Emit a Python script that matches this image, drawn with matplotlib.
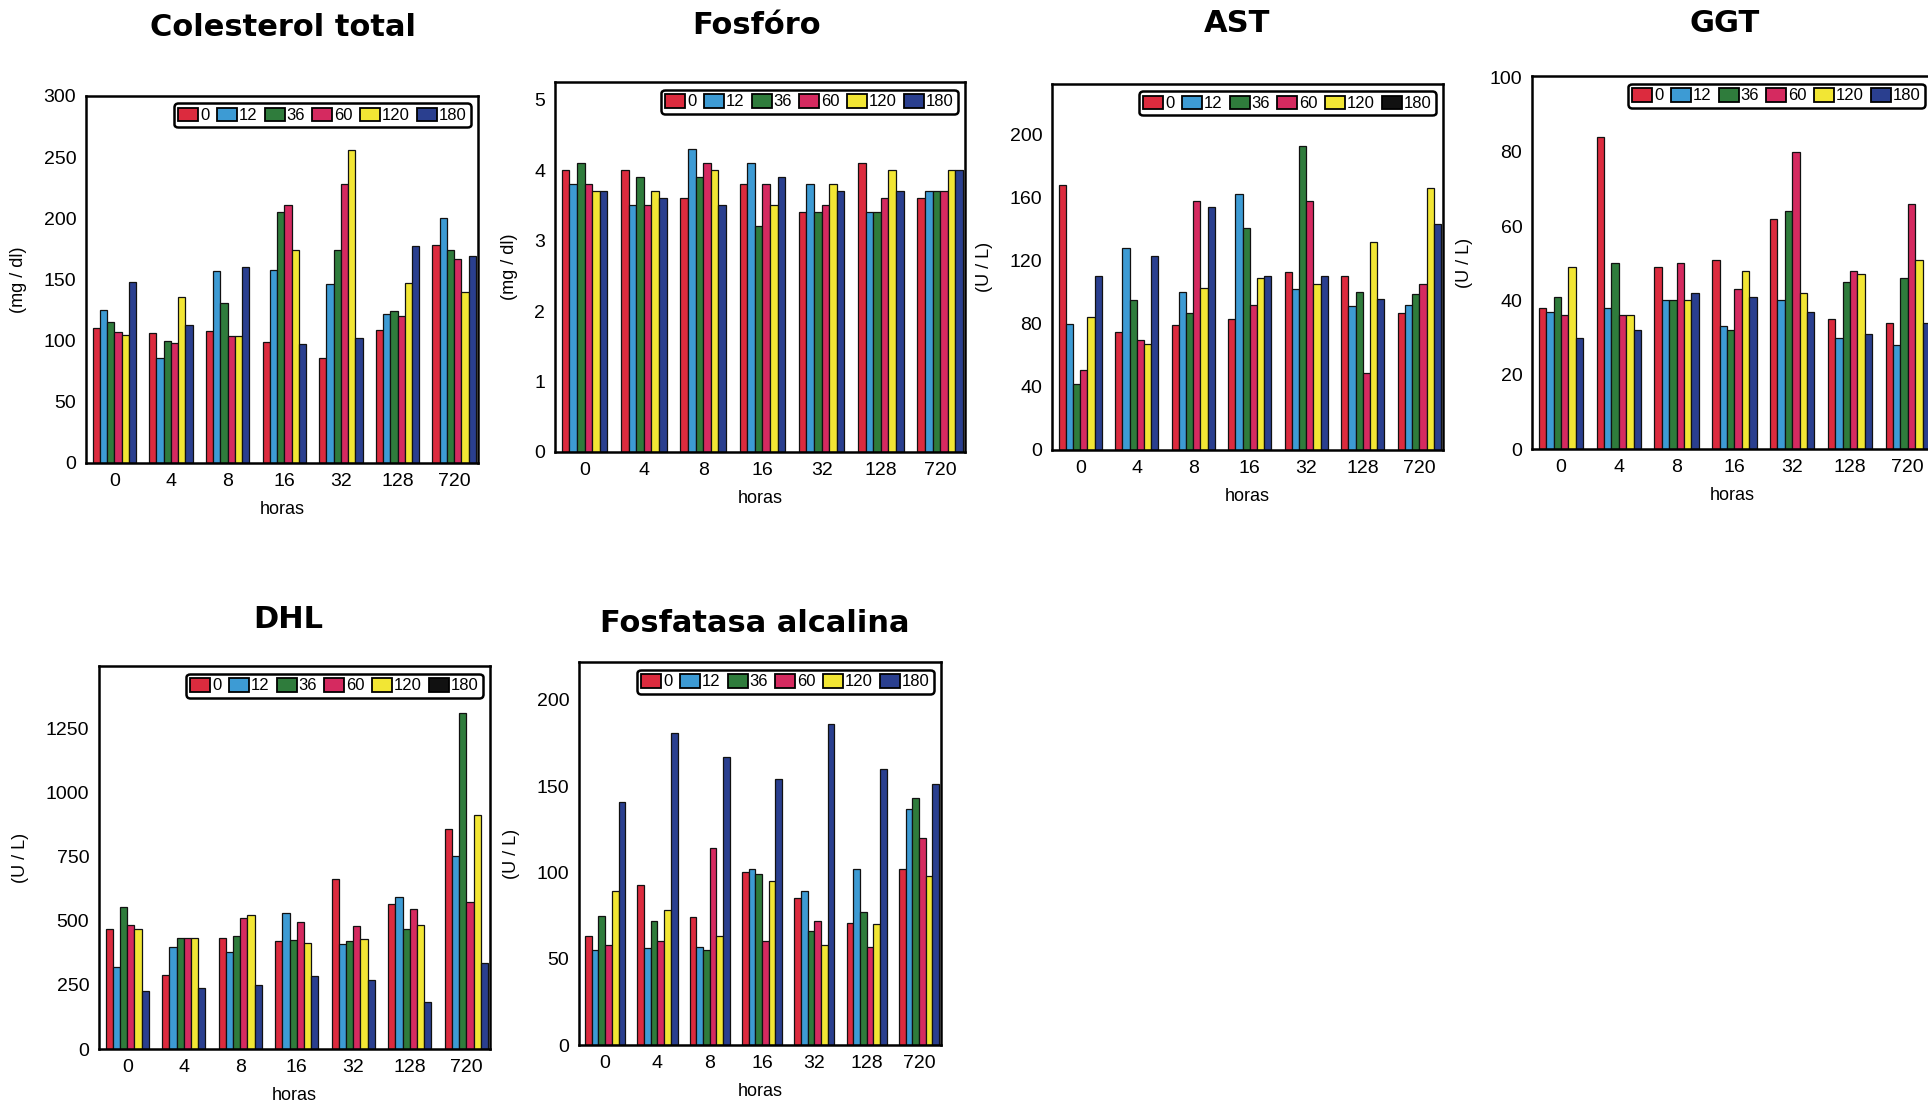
#!/usr/bin/env python3
"""Grouped bar panels: serum chemistry vs. horas for six dose groups."""

import matplotlib.pyplot as plt
import numpy as np
from matplotlib.patches import Patch

plt.rcParams["font.family"] = ["Liberation Sans", "DejaVu Sans"]

W, H = 1928, 1104

HORAS = ["0", "4", "8", "16", "32", "128", "720"]
SERIES = ["0", "12", "36", "60", "120", "180"]
COLORS = ["#dc2b3e", "#3d9bd4", "#2f7c3c", "#d52a60", "#f2e634", "#2a3f8f"]

# rows = horas, cols = series (0, 12, 36, 60, 120, 180)
COLESTEROL = [
    [110, 125, 115, 107, 105, 148],
    [106, 86, 100, 98, 136, 113],
    [108, 157, 131, 104, 104, 160],
    [99, 158, 205, 211, 174, 97],
    [86, 146, 174, 228, 256, 102],
    [109, 122, 124, 120, 147, 177],
    [178, 200, 174, 167, 140, 169],
]
FOSFORO = [
    [4.0, 3.8, 4.1, 3.8, 3.7, 3.7],
    [4.0, 3.5, 3.9, 3.5, 3.7, 3.6],
    [3.6, 4.3, 3.9, 4.1, 4.0, 3.5],
    [3.8, 4.1, 3.2, 3.8, 3.5, 3.9],
    [3.4, 3.8, 3.4, 3.5, 3.8, 3.7],
    [4.1, 3.4, 3.4, 3.6, 4.0, 3.7],
    [3.6, 3.7, 3.7, 3.7, 4.0, 4.0],
]
AST = [
    [168, 80, 42, 51, 84, 110],
    [75, 128, 95, 70, 67, 123],
    [79, 100, 87, 158, 103, 154],
    [83, 162, 141, 92, 109, 110],
    [113, 102, 193, 158, 105, 110],
    [110, 91, 100, 49, 132, 96],
    [87, 92, 99, 105, 166, 143],
]
GGT = [
    [38, 37, 41, 36, 49, 30],
    [84, 38, 50, 36, 36, 32],
    [49, 40, 40, 50, 40, 42],
    [51, 33, 32, 43, 48, 41],
    [62, 40, 64, 80, 42, 37],
    [35, 30, 45, 48, 47, 31],
    [34, 28, 46, 66, 51, 34],
]
DHL = [
    [470, 320, 555, 485, 470, 225],
    [290, 400, 435, 435, 435, 240],
    [435, 380, 440, 510, 525, 250],
    [420, 530, 425, 495, 415, 285],
    [665, 410, 420, 480, 430, 270],
    [565, 595, 470, 545, 485, 185],
    [860, 755, 1310, 575, 915, 335],
]
FOSFATASA = [
    [63, 55, 75, 58, 89, 141],
    [93, 56, 72, 60, 78, 181],
    [74, 57, 55, 114, 63, 167],
    [100, 102, 99, 60, 95, 154],
    [85, 89, 66, 72, 58, 186],
    [71, 102, 77, 57, 70, 160],
    [102, 137, 143, 120, 98, 151],
]

# title, data, ylabel, ymax, yticks, axes box px (l, t, r, b), title centre px, black 180 in legend
PANELS = [
    ("Colesterol total", COLESTEROL, "(mg / dl)", 300, [0, 50, 100, 150, 200, 250, 300],
     (86, 96, 478, 463), (283, 27), False),
    ("Fosfóro", FOSFORO, "(mg / dl)", 5.25, [0, 1, 2, 3, 4, 5],
     (555, 82, 965, 452), (757, 25), False),
    ("AST", AST, "(U / L)", 232, [0, 40, 80, 120, 160, 200],
     (1052, 84, 1443, 450), (1237, 23), True),
    ("GGT", GGT, "(U / L)", 100.4, [0, 20, 40, 60, 80, 100],
     (1532, 76, 1932, 449), (1725, 23), False),
    ("DHL", DHL, "(U / L)", 1495, [0, 250, 500, 750, 1000, 1250],
     (99, 666, 490, 1049), (288, 620), True),
    ("Fosfatasa alcalina", FOSFATASA, "(U / L)", 222, [0, 50, 100, 150, 200],
     (579, 662, 941, 1045), (755, 623), False),
]

fig = plt.figure(figsize=(W / 100, H / 100), dpi=100)

x = np.arange(len(HORAS))
bw = 0.128
for title, data, ylabel, ymax, yticks, (l, t, r, b), (tx, ty), black180 in PANELS:
    ax = fig.add_axes([l / W, 1 - b / H, (r - l) / W, (b - t) / H])
    vals = np.array(data, dtype=float)
    for j, c in enumerate(COLORS):
        ax.bar(x + (j - 2.5) * bw, vals[:, j], bw, color=c, edgecolor="#111111", lw=0.9)
    ax.set_xlim(-0.5, 6.42)
    ax.set_ylim(0, ymax)
    ax.set_xticks(x)
    ax.set_xticklabels(HORAS)
    ax.set_yticks(yticks)
    ax.tick_params(length=0, labelsize=14, pad=7)
    for s in ax.spines.values():
        s.set_linewidth(1.8)
    ax.set_xlabel("horas", fontsize=13, labelpad=8)
    ax.set_ylabel(ylabel, fontsize=13, labelpad=12)

    cols = list(COLORS)
    if black180:
        cols[-1] = "#111111"
    handles = [Patch(facecolor=c, edgecolor="black", lw=1.3) for c in cols]
    leg = ax.legend(handles, SERIES, loc="upper right", ncol=6, fontsize=12,
                    handlelength=1.2, handleheight=0.9, handletextpad=0.1,
                    columnspacing=0.45, borderpad=0.25, borderaxespad=0.45,
                    fancybox=True, framealpha=1, edgecolor="black")
    leg.get_frame().set_linewidth(1.8)

    fig.text(tx / W, 1 - ty / H, title, ha="center", va="center",
             fontsize=22, fontweight="bold", family="DejaVu Sans")

fig.savefig("out.png", dpi=100)
